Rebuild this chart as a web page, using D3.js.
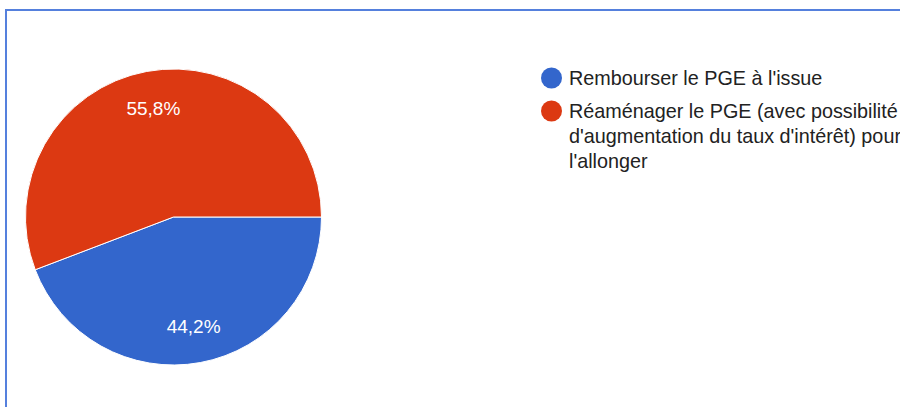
<!DOCTYPE html>
<html>
<head>
<meta charset="utf-8">
<script src="https://cdn.jsdelivr.net/npm/d3@7"></script>
<style>
  html, body { margin: 0; padding: 0; background: #fff; overflow: hidden; }
  svg { display: block; font-family: "Liberation Sans", Arial, sans-serif; }
</style>
</head>
<body>
<svg id="viz" width="900" height="407"></svg>
<script>
var categories = [
    "Rembourser le PGE à l'issue",
    "Réaménager le PGE (avec possibilité d'augmentation du taux d'intérêt) pour l'allonger"
];
var legendLines = [
    ["Rembourser le PGE à l'issue"],
    ["Réaménager le PGE (avec possibilité", "d'augmentation du taux d'intérêt) pour", "l'allonger"]
];
var values = [44.2, 55.8];
var labels = ["44,2%", "55,8%"];
var colors = ["#3366cc", "#dc3912"];

var svg = d3.select("#viz");

// frame
svg.append("rect")
    .attr("x", 6).attr("y", 10)
    .attr("width", 920).attr("height", 420)
    .attr("fill", "none")
    .attr("stroke", "#5580dd")
    .attr("stroke-width", 2);

var cx = 173.5, cy = 217, r = 148;

var pie = d3.pie()
    .sort(null)
    .startAngle(Math.PI / 2)
    .endAngle(Math.PI / 2 + 2 * Math.PI);

var arc = d3.arc().innerRadius(0).outerRadius(r);
var labelArc = d3.arc().innerRadius(r * 0.75).outerRadius(r * 0.75);

var g = svg.append("g").attr("transform", "translate(" + cx + "," + cy + ")");
var arcs = pie(values);

g.selectAll("path")
    .data(arcs)
    .enter().append("path")
    .attr("d", arc)
    .attr("fill", function(d, i) { return colors[i]; })
    .attr("stroke", "#fff")
    .attr("stroke-width", 1);

g.selectAll("text")
    .data(arcs)
    .enter().append("text")
    .attr("transform", function(d) { return "translate(" + labelArc.centroid(d) + ")"; })
    .attr("dy", "0.36em")
    .attr("text-anchor", "middle")
    .attr("fill", "#fff")
    .attr("font-size", 19)
    .text(function(d, i) { return labels[i]; });

// legend
var legend = svg.append("g");
var itemY = [78, 111];
legendLines.forEach(function(lines, i) {
    legend.append("circle")
        .attr("cx", 551.5).attr("cy", itemY[i])
        .attr("r", 10.5)
        .attr("fill", colors[i]);
    var t = legend.append("text")
        .attr("x", 569)
        .attr("y", itemY[i] + 7)
        .attr("fill", "#222")
        .attr("font-size", 19.8);
    lines.forEach(function(line, j) {
        t.append("tspan")
            .attr("x", 569)
            .attr("dy", j === 0 ? 0 : 25)
            .text(line);
    });
});
</script>
</body>
</html>
